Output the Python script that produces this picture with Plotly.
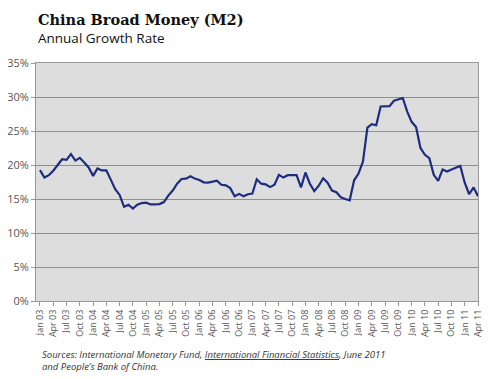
import plotly.graph_objects as go

# Monthly M2 annual growth rate (%), Jan 2003 - Apr 2011
months = []
for yr in range(2003, 2012):
    for m in ["Jan", "Feb", "Mar", "Apr", "May", "Jun", "Jul", "Aug", "Sep", "Oct", "Nov", "Dec"]:
        months.append(f"{m} {str(yr)[2:]}")
months = months[:100]

growth = [
    19.25, 18.15, 18.5, 19.15, 20.0, 20.85, 20.75, 21.6, 20.65, 21.05, 20.35, 19.65,
    18.4, 19.5, 19.2, 19.2, 17.85, 16.45, 15.6, 13.85, 14.15, 13.6, 14.15, 14.4,
    14.45, 14.2, 14.2, 14.25, 14.55, 15.5, 16.25, 17.25, 17.95, 18.0, 18.35, 18.0,
    17.8, 17.45, 17.4, 17.55, 17.7, 17.1, 17.0, 16.6, 15.4, 15.75, 15.4, 15.7,
    15.8, 17.9, 17.25, 17.15, 16.75, 17.1, 18.55, 18.15, 18.5, 18.5, 18.5, 16.7,
    18.9, 17.25, 16.15, 16.95, 18.05, 17.4, 16.25, 16.0, 15.25, 15.0, 14.8, 17.75,
    18.75, 20.5, 25.5, 26.0, 25.85, 28.6, 28.6, 28.65, 29.45, 29.65, 29.85, 27.85,
    26.35, 25.6, 22.5, 21.5, 21.0, 18.55, 17.65, 19.35, 19.05, 19.35, 19.55, 19.85,
    17.4, 15.7, 16.7, 15.4,
]

tick_idx = list(range(0, 100, 3))
tick_labels = [months[i] for i in tick_idx]
y_ticks = [0, 5, 10, 15, 20, 25, 30, 35]

# page body has an 8px default margin; work in reference pixels, shift by OFF
OFF = 8
W, H = 500 - OFF, 379 - OFF
L, R, T, B = 35.5 - OFF, 478 - OFF, 63 - OFF, 301 - OFF


def px(x):
    return (x - OFF - L) / (R - L)


def py(y):
    return (B - (y - OFF)) / (B - T)


fig = go.Figure()
fig.add_trace(go.Scatter(
    x=list(range(len(growth))), y=growth, mode="lines",
    line=dict(color="#1e2c80", width=2.2), hoverinfo="skip",
))

fig.update_layout(
    width=W, height=H,
    margin=dict(l=L, r=W - R, t=T, b=H - B, autoexpand=False),
    paper_bgcolor="white", plot_bgcolor="#dcdddc",
    showlegend=False,
    xaxis=dict(
        range=[-0.9, 99], tickvals=tick_idx, ticktext=tick_labels,
        tickangle=-90, tickfont=dict(family="Open Sans, sans-serif", size=9, color="#555"),
        ticks="outside", ticklen=4, tickcolor="#999", showgrid=False, zeroline=False,
        showline=True, linecolor="#999", linewidth=1, mirror=True,
    ),
    yaxis=dict(
        range=[0, 35], tickvals=y_ticks, ticktext=[f"{v}%" for v in y_ticks],
        tickfont=dict(family="Open Sans, sans-serif", size=11, color="#555"),
        ticks="outside", ticklen=4, tickcolor="#999",
        showgrid=True, gridcolor="#8f8f8f", gridwidth=1, zeroline=False,
        showline=True, linecolor="#999", linewidth=1, mirror=True,
    ),
    annotations=[
        dict(text="<b>China Broad Money (M2)</b>", xref="paper", yref="paper",
             x=px(36), y=py(19), xanchor="left", yanchor="middle", showarrow=False,
             font=dict(family="DejaVu Serif", size=14.5, color="#111")),
        dict(text="Annual Growth Rate", xref="paper", yref="paper",
             x=px(36), y=py(38), xanchor="left", yanchor="middle", showarrow=False,
             font=dict(family="Open Sans, sans-serif", size=13.5, color="#111")),
        dict(text="<i>Sources: International Monetary Fund, <u>International Financial Statistics</u>, June 2011<br>and People\u2019s Bank of China.</i>",
             xref="paper", yref="paper", x=px(40), y=py(360), xanchor="left", yanchor="middle",
             align="left", showarrow=False,
             font=dict(family="Open Sans, sans-serif", size=9.5, color="#333")),
    ],
)

fig.write_html("out.html")
